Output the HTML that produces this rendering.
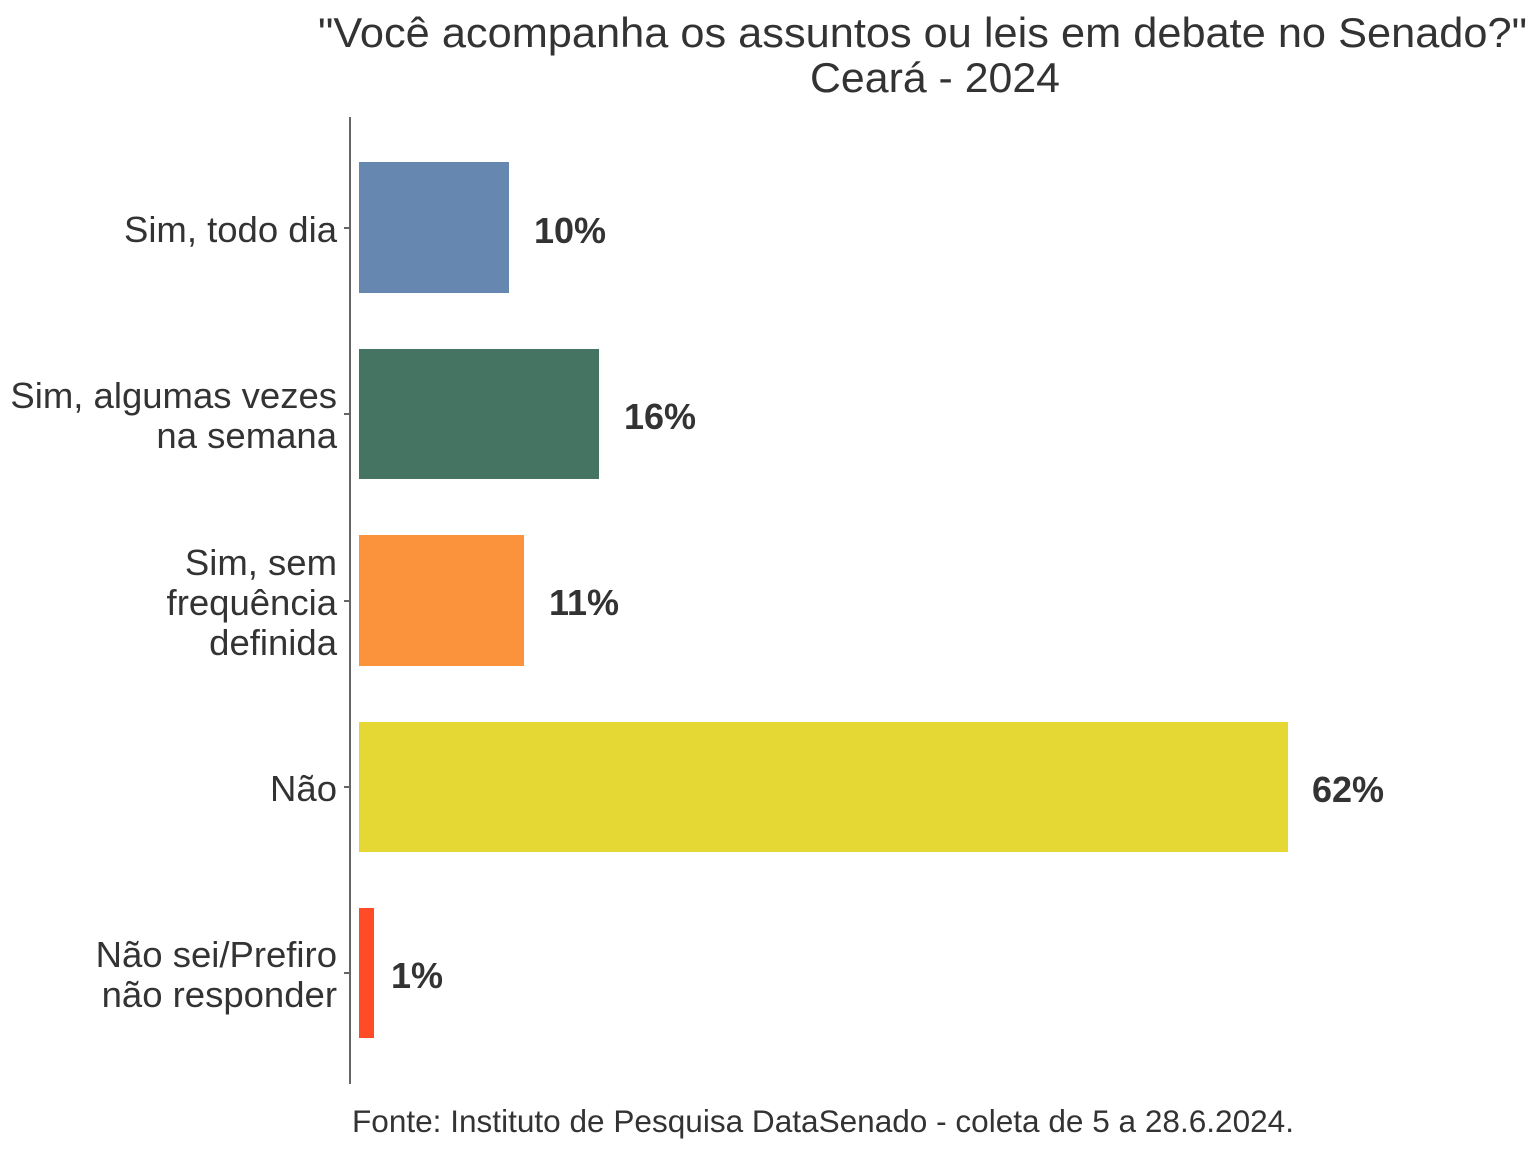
<!DOCTYPE html>
<html><head><meta charset="utf-8"><style>
html,body{margin:0;padding:0;background:#fff;}
svg{display:block;}
text{font-family:"Liberation Sans",Arial,sans-serif;fill:#333;}
</style></head><body>
<svg width="1536" height="1152" viewBox="0 0 1536 1152">
<text x="318" y="47" font-size="42" textLength="1209" lengthAdjust="spacingAndGlyphs">"Você acompanha os assuntos ou leis em debate no Senado?"</text>
<text x="810" y="92" font-size="42" textLength="250" lengthAdjust="spacingAndGlyphs">Ceará - 2024</text>
<line x1="350" y1="117" x2="350" y2="1084" stroke="#666" stroke-width="2"/>
<g stroke="#666" stroke-width="2">
<line x1="344" y1="228" x2="350" y2="228"/>
<line x1="344" y1="414" x2="350" y2="414"/>
<line x1="344" y1="601" x2="350" y2="601"/>
<line x1="344" y1="787" x2="350" y2="787"/>
<line x1="344" y1="973" x2="350" y2="973"/>
</g>
<rect x="359" y="162" width="150" height="131" fill="#6688b0"/>
<rect x="359" y="349" width="240" height="130" fill="#457562"/>
<rect x="359" y="535" width="165" height="131" fill="#fb923c"/>
<rect x="359" y="722" width="929" height="130" fill="#e5d835"/>
<rect x="359" y="908" width="15" height="130" fill="#ff4b26"/>
<g font-size="36" font-weight="bold">
<text x="534" y="243">10%</text>
<text x="624" y="429">16%</text>
<text x="549" y="615">11%</text>
<text x="1312" y="802">62%</text>
<text x="391" y="988">1%</text>
</g>
<g font-size="36.5" text-anchor="end">
<text x="337" y="242">Sim, todo dia</text>
<text x="337" y="408">Sim, algumas vezes</text>
<text x="337" y="448">na semana</text>
<text x="337" y="575">Sim, sem</text>
<text x="337" y="615">frequência</text>
<text x="337" y="655">definida</text>
<text x="337" y="801">Não</text>
<text x="337" y="967">Não sei/Prefiro</text>
<text x="337" y="1007">não responder</text>
</g>
<text x="352" y="1132" font-size="31.6" textLength="942" lengthAdjust="spacingAndGlyphs">Fonte: Instituto de Pesquisa DataSenado - coleta de 5 a 28.6.2024.</text>
</svg>
</body></html>
